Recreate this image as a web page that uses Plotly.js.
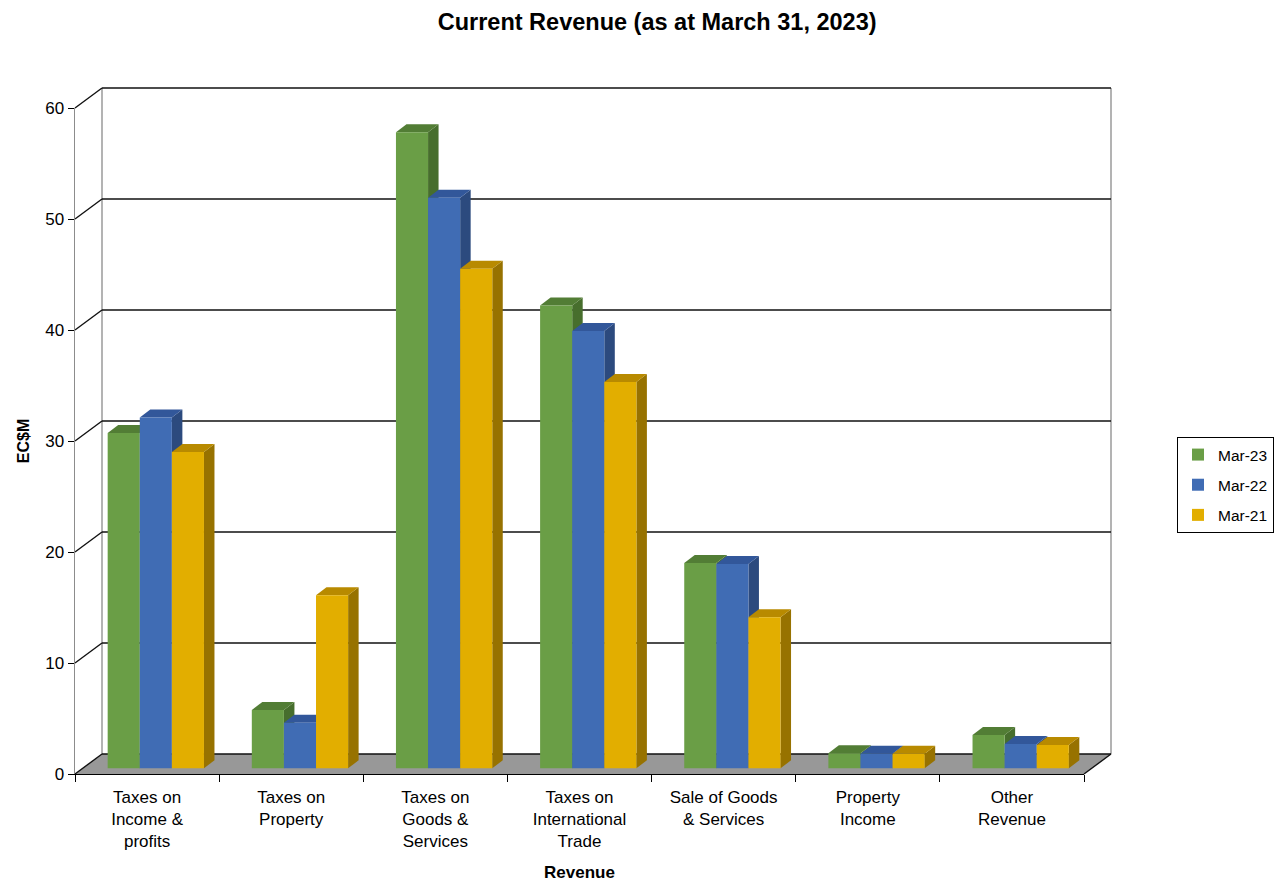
<!DOCTYPE html>
<html><head><meta charset="utf-8">
<script src="https://cdn.plot.ly/plotly-3.0.1.min.js"></script>
<style>html,body{margin:0;padding:0;background:#fff}</style>
</head><body><div id="chart" style="width:1276px;height:882px"></div>
<script>
// ---------- data ----------
const categories = ["Taxes on<br>Income &<br>profits", "Taxes on<br>Property", "Taxes on<br>Goods &<br>Services", "Taxes on<br>International<br>Trade", "Sale of Goods<br>& Services", "Property<br>Income", "Other<br>Revenue"];
const seriesNames = ["Mar-23", "Mar-22", "Mar-21"];
const mar23 = [30.2, 5.25, 57.3, 41.7, 18.5, 1.35, 3.0];
const mar22 = [31.6, 4.1, 51.4, 39.4, 18.4, 1.3, 2.2];
const mar21 = [28.5, 15.6, 45.0, 34.8, 13.6, 1.3, 2.1];
const yTicks = [0, 10, 20, 30, 40, 50, 60];

// ---------- styling / geometry ----------
const seriesValues = [mar23, mar22, mar21];
const frontColors = ["#6A9E46", "#406CB4", "#E2AE00"];
const topColors = ["#527D35", "#32579A", "#B88A00"];
const sideColors = ["#476E2D", "#2C4A7E", "#977200"];

const W = 1276, H = 882, ML = 75, MR = 192, MT = 108, MB = 108;
const PW = W - ML - MR, PH = H - MT - MB;
const YMAX = 60;
const nCat = categories.length;
const pxPerCat = PW / nCat, pxPerUnit = PH / YMAX;
const WALL_DX = 27, WALL_DY = 20;          // depth of the 3-D box (px)
const BAR_LIFT = 5.7;                      // bar plane sits behind the front edge (px)
const BAR_W = 32.1, GROUP_LEFT = -39.4;    // px, relative to category centre
const BAR_DX = 10.5, BAR_DY = 8;           // depth of each bar (px)
const BASE = BAR_LIFT / pxPerUnit;

function xp(c, dpx) { return (c + 0.5) / nCat + dpx / PW; }
function yp(v, dpx) { return v / YMAX + dpx / PH; }
function poly(pts) { return "M" + pts.map(p => p[0] + "," + p[1]).join(" L") + " Z"; }

const shapes = [];
const xL = -0.5, xR = nCat - 0.5;
// floor
shapes.push({type: "path", xref: "paper", yref: "paper", layer: "below",
  path: poly([[xp(xL, 0), yp(0, 0)], [xp(xR, 0), yp(0, 0)], [xp(xR, WALL_DX), yp(0, WALL_DY)], [xp(xL, WALL_DX), yp(0, WALL_DY)]]),
  fillcolor: "#989898", line: {width: 0}});
// wall verticals
[xL, xR].forEach(c => shapes.push({type: "line", xref: "paper", yref: "paper", layer: "below",
  x0: xp(c, WALL_DX), x1: xp(c, WALL_DX), y0: yp(0, WALL_DY), y1: yp(YMAX, WALL_DY),
  line: {color: "#9a9a9a", width: 1.5}}));
// gridlines on back wall and side wall diagonals
yTicks.forEach(v => {
  shapes.push({type: "line", xref: "paper", yref: "paper", layer: "below",
    x0: xp(xL, WALL_DX), x1: xp(xR, WALL_DX), y0: yp(v, WALL_DY), y1: yp(v, WALL_DY),
    line: {color: "#111", width: 1.4}});
  shapes.push({type: "line", xref: "paper", yref: "paper", layer: "below",
    x0: xp(xL, 0), x1: xp(xL, WALL_DX), y0: yp(v, 0), y1: yp(v, WALL_DY),
    line: {color: "#111", width: 1.4}});
});
// floor right edge
shapes.push({type: "line", xref: "paper", yref: "paper", layer: "below",
  x0: xp(xR, 0), x1: xp(xR, WALL_DX), y0: yp(0, 0), y1: yp(0, WALL_DY),
  line: {color: "#111", width: 1.4}});
// bar side and top faces
for (let i = 0; i < nCat; i++) {
  for (let s = 0; s < seriesValues.length; s++) {
    const top = BASE + seriesValues[s][i];
    const l = GROUP_LEFT + s * BAR_W, r = l + BAR_W;
    shapes.push({type: "path", xref: "paper", yref: "paper", layer: "below",
      path: poly([[xp(i, r), yp(top, 0)], [xp(i, r + BAR_DX), yp(top, BAR_DY)], [xp(i, r + BAR_DX), yp(BASE, BAR_DY)], [xp(i, r), yp(BASE, 0)]]),
      fillcolor: sideColors[s], line: {width: 0}});
    shapes.push({type: "path", xref: "paper", yref: "paper", layer: "below",
      path: poly([[xp(i, l), yp(top, 0)], [xp(i, r), yp(top, 0)], [xp(i, r + BAR_DX), yp(top, BAR_DY)], [xp(i, l + BAR_DX), yp(top, BAR_DY)]]),
      fillcolor: topColors[s], line: {width: 0}});
  }
}

const traces = seriesValues.map((vals, s) => ({
  type: "bar", name: seriesNames[s], x: categories, y: vals, base: BASE,
  width: BAR_W / pxPerCat, offset: (GROUP_LEFT + s * BAR_W) / pxPerCat,
  marker: {color: frontColors[s], line: {width: 0}},
  legendgroup: "g" + s, hoverinfo: "name+y"
}));

const font = "Liberation Sans, Arial, sans-serif";
const layout = {
  width: W, height: H,
  margin: {l: ML, r: MR, t: MT, b: MB},
  paper_bgcolor: "#fff", plot_bgcolor: "rgba(0,0,0,0)",
  barmode: "overlay",
  font: {family: font, color: "#000", size: 17},
  title: {text: "Current Revenue (as at March 31, 2023)", x: 0.515, xref: "container", xanchor: "center",
          y: 1 - 22 / H, yref: "container", yanchor: "middle",
          font: {family: font, size: 23.5, weight: "bold", color: "#000"}},
  xaxis: {type: "category", range: [xL, xR], tickson: "boundaries", ticks: "outside", ticklen: 7,
          tickcolor: "#000", showline: true, linecolor: "#000", linewidth: 1.4, showgrid: false,
          zeroline: false, fixedrange: true, automargin: false, ticklabelstandoff: 7,
          tickfont: {family: font, size: 17, color: "#000"},
          title: {text: "Revenue", standoff: 18, font: {family: font, size: 17, weight: "bold", color: "#000"}}},
  yaxis: {range: [0, YMAX], tickvals: yTicks, ticks: "outside", ticklen: 6, tickcolor: "#000",
          showline: true, linecolor: "#8c8c8c", linewidth: 1.4, showgrid: false, zeroline: false,
          fixedrange: true, automargin: false, tickfont: {family: font, size: 17, color: "#000"},
          title: {text: "EC$M", standoff: 11, font: {family: font, size: 16, weight: "bold", color: "#000"}}},
  legend: {xref: "container", yref: "container", x: 1177 / W, xanchor: "left", y: 1 - 485 / H, yanchor: "middle",
           bordercolor: "#000", borderwidth: 1, bgcolor: "#fff", tracegroupgap: 7,
           traceorder: "grouped", font: {family: font, size: 15.5, color: "#000"}},
  shapes: shapes,
  showlegend: true
};

Plotly.newPlot("chart", traces, layout, {displayModeBar: false, staticPlot: true});
</script>
</body></html>
